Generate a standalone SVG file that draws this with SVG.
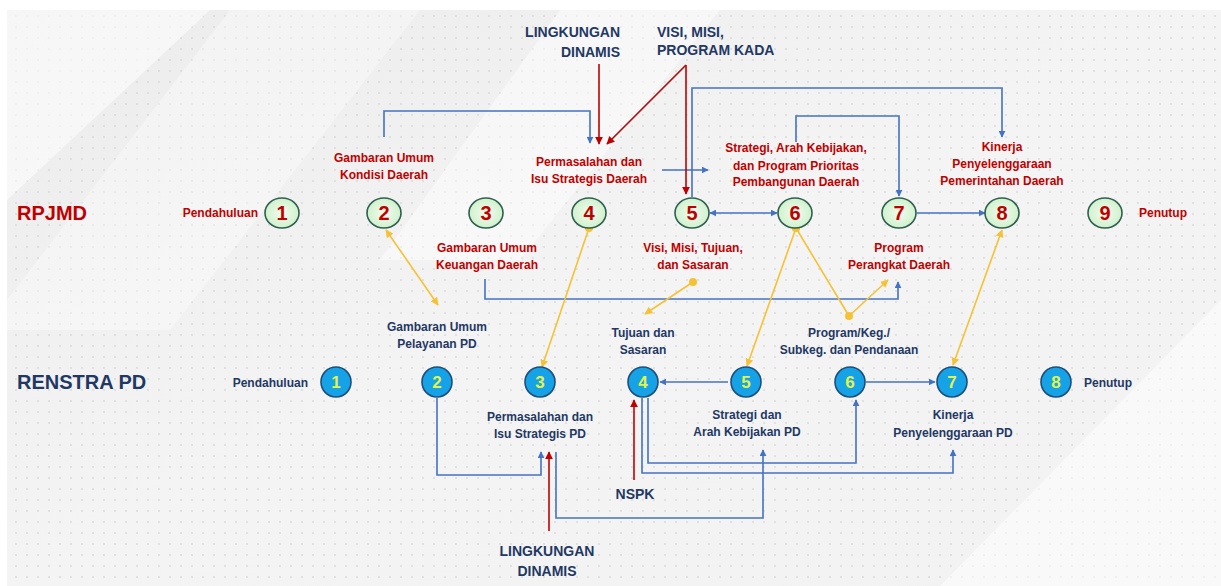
<svg xmlns="http://www.w3.org/2000/svg" width="1221" height="586" viewBox="0 0 1221 586">
<defs>
<style>
.lbl{font-family:"Liberation Sans",Arial,sans-serif;font-weight:bold;font-size:12px;text-anchor:middle}
.red{fill:#c00000}
.navy{fill:#1f3864}
.big{font-size:14px}
.title{font-family:"Liberation Sans",Arial,sans-serif;font-weight:bold;font-size:20px}
.cg{fill:url(#gg);stroke:#2f5f4f;stroke-width:1.6}
.cb{fill:#15a2e6;stroke:#1f4e79;stroke-width:1.6}
.ng{font-family:"Liberation Sans",Arial,sans-serif;font-weight:bold;font-size:20px;fill:#c00000;text-anchor:middle}
.nb{font-family:"Liberation Sans",Arial,sans-serif;font-weight:bold;font-size:17px;fill:#e4f24a;text-anchor:middle}
.bl{fill:none;stroke:#4472c4;stroke-width:1.6}
.rd{fill:none;stroke:#c00000;stroke-width:1.6}
.yl{fill:none;stroke:#f5c235;stroke-width:1.6}
</style>
<radialGradient id="gg" cx="0.5" cy="0.5" r="0.6">
<stop offset="0" stop-color="#f2fcef"/>
<stop offset="1" stop-color="#c9efc6"/>
</radialGradient>
<linearGradient id="bg" x1="0" y1="0" x2="1" y2="1">
<stop offset="0" stop-color="#ececec"/>
<stop offset="0.5" stop-color="#f4f4f4"/>
<stop offset="1" stop-color="#f2f2f2"/>
</linearGradient>
<pattern id="dots" width="11" height="11" patternUnits="userSpaceOnUse">
<circle cx="5" cy="5" r="1.1" fill="#d2d2d2"/>
</pattern>
<marker id="ab" viewBox="0 0 10 10" refX="9" refY="5" markerWidth="7" markerHeight="7" orient="auto-start-reverse" markerUnits="userSpaceOnUse">
<path d="M0,0 L10,5 L0,10 z" fill="#4472c4"/>
</marker>
<marker id="ar" viewBox="0 0 10 10" refX="9" refY="5" markerWidth="8" markerHeight="8" orient="auto-start-reverse" markerUnits="userSpaceOnUse">
<path d="M0,0 L10,5 L0,10 z" fill="#c00000"/>
</marker>
<marker id="ay" viewBox="0 0 10 10" refX="9" refY="5" markerWidth="8" markerHeight="8" orient="auto-start-reverse" markerUnits="userSpaceOnUse">
<path d="M0,0 L10,5 L0,10 z" fill="#f5c235"/>
</marker>
<marker id="dy" viewBox="0 0 10 10" refX="5" refY="5" markerWidth="8" markerHeight="8" markerUnits="userSpaceOnUse">
<circle cx="5" cy="5" r="5" fill="#f5c235"/>
</marker>
</defs>

<rect x="0" y="0" width="1221" height="586" fill="#ffffff"/>
<rect x="7" y="10" width="1214" height="576" fill="url(#bg)"/>
<rect x="7" y="10" width="1214" height="576" fill="url(#dots)" opacity="0.7"/>
<polygon points="7,10 210,10 7,200" fill="#ffffff" opacity="0.55"/>
<polygon points="230,10 420,10 170,330 7,330 7,300" fill="#ffffff" opacity="0.35"/>
<polygon points="560,10 720,10 520,260 380,260" fill="#ffffff" opacity="0.45"/>
<polygon points="1221,300 1221,586 940,586" fill="#ffffff" opacity="0.5"/>

<g id="titles">
<text class="title red" x="17" y="220">RPJMD</text>
<text class="title navy" x="17" y="389">RENSTRA PD</text>
</g>

<g id="connectors">
<!-- RPJMD blue -->
<polyline class="bl" points="384,137 384,111 590,111 590,143" marker-end="url(#ab)"/>
<line class="bl" x1="662" y1="170" x2="708" y2="170" marker-end="url(#ab)"/>
<polyline class="bl" points="692,197 692,88 1002,88 1002,137" marker-end="url(#ab)"/>
<polyline class="bl" points="796,142 796,116 899,116 899,196" marker-end="url(#ab)"/>
<line class="bl" x1="710" y1="213" x2="777" y2="213" marker-start="url(#ab)" marker-end="url(#ab)"/>
<line class="bl" x1="917" y1="213" x2="985" y2="213" marker-end="url(#ab)"/>
<polyline class="bl" points="485,279 485,299 898,299 898,282" marker-end="url(#ab)"/>
<!-- red inputs top -->
<line class="rd" x1="599" y1="64" x2="599" y2="144" marker-end="url(#ar)"/>
<line class="rd" x1="686" y1="65" x2="607" y2="144" marker-end="url(#ar)"/>
<line class="rd" x1="686" y1="65" x2="686" y2="194" marker-end="url(#ar)"/>
<!-- yellow links -->
<line class="yl" x1="386" y1="230" x2="438" y2="305" marker-start="url(#ay)" marker-end="url(#ay)"/>
<line class="yl" x1="589" y1="228" x2="542" y2="367" marker-start="url(#dy)" marker-end="url(#ay)"/>
<line class="yl" x1="693" y1="282" x2="645" y2="314" marker-start="url(#dy)" marker-end="url(#ay)"/>
<line class="yl" x1="796" y1="228" x2="747" y2="366" marker-start="url(#dy)" marker-end="url(#ay)"/>
<line class="yl" x1="796" y1="228" x2="849" y2="316" marker-start="url(#dy)" marker-end="url(#dy)"/>
<line class="yl" x1="849" y1="316" x2="888" y2="280" marker-end="url(#ay)"/>
<line class="yl" x1="1002" y1="230" x2="953" y2="365" marker-start="url(#ay)" marker-end="url(#ay)"/>
<!-- RENSTRA blue -->
<line class="bl" x1="728" y1="382" x2="660" y2="382" marker-end="url(#ab)"/>
<line class="bl" x1="866" y1="382" x2="935" y2="382" marker-end="url(#ab)"/>
<polyline class="bl" points="437,398 437,475 541,475 541,452" marker-end="url(#ab)"/>
<polyline class="bl" points="556,452 556,518 763,518 763,450" marker-end="url(#ab)"/>
<polyline class="bl" points="648,398 648,463 856,463 856,400" marker-end="url(#ab)"/>
<polyline class="bl" points="642,398 642,473 953,473 953,450" marker-end="url(#ab)"/>
<!-- red inputs bottom -->
<line class="rd" x1="549" y1="531" x2="549" y2="452" marker-end="url(#ar)"/>
<line class="rd" x1="634" y1="480" x2="634" y2="400" marker-end="url(#ar)"/>
</g>

<g id="ext-lingkungan-top">
<text class="lbl navy big" style="text-anchor:end" x="620" y="37">LINGKUNGAN</text>
<text class="lbl navy big" style="text-anchor:end" x="620" y="57">DINAMIS</text>
</g>
<g id="ext-visi">
<text class="lbl navy big" style="text-anchor:start" x="657" y="37">VISI, MISI,</text>
<text class="lbl navy big" style="text-anchor:start" x="657" y="55">PROGRAM KADA</text>
</g>

<g id="r1"><ellipse class="cg" cx="282" cy="213" rx="17" ry="15"/><text class="ng" x="282" y="220">1</text>
<text class="lbl red" style="text-anchor:end" x="258" y="217">Pendahuluan</text></g>
<g id="r2"><ellipse class="cg" cx="384" cy="213" rx="17" ry="15"/><text class="ng" x="384" y="220">2</text>
<text class="lbl red" x="384" y="162">Gambaran Umum</text><text class="lbl red" x="384" y="179">Kondisi Daerah</text></g>
<g id="r3"><ellipse class="cg" cx="486" cy="213" rx="17" ry="15"/><text class="ng" x="486" y="220">3</text>
<text class="lbl red" x="487" y="252">Gambaran Umum</text><text class="lbl red" x="487" y="269">Keuangan Daerah</text></g>
<g id="r4"><ellipse class="cg" cx="589" cy="213" rx="17" ry="15"/><text class="ng" x="589" y="220">4</text>
<text class="lbl red" x="589" y="166">Permasalahan dan</text><text class="lbl red" x="589" y="183">Isu Strategis Daerah</text></g>
<g id="r5"><ellipse class="cg" cx="692" cy="213" rx="17" ry="15"/><text class="ng" x="692" y="220">5</text>
<text class="lbl red" x="693" y="252">Visi, Misi, Tujuan,</text><text class="lbl red" x="693" y="269">dan Sasaran</text></g>
<g id="r6"><ellipse class="cg" cx="795" cy="213" rx="17" ry="15"/><text class="ng" x="795" y="220">6</text>
<text class="lbl red" x="796" y="152">Strategi, Arah Kebijakan,</text><text class="lbl red" x="796" y="170">dan Program Prioritas</text><text class="lbl red" x="796" y="186">Pembangunan Daerah</text></g>
<g id="r7"><ellipse class="cg" cx="899" cy="213" rx="17" ry="15"/><text class="ng" x="899" y="220">7</text>
<text class="lbl red" x="899" y="252">Program</text><text class="lbl red" x="899" y="269">Perangkat Daerah</text></g>
<g id="r8"><ellipse class="cg" cx="1002" cy="213" rx="17" ry="15"/><text class="ng" x="1002" y="220">8</text>
<text class="lbl red" x="1002" y="151">Kinerja</text><text class="lbl red" x="1002" y="168">Penyelenggaraan</text><text class="lbl red" x="1002" y="185">Pemerintahan Daerah</text></g>
<g id="r9"><ellipse class="cg" cx="1105" cy="213" rx="17" ry="15"/><text class="ng" x="1105" y="220">9</text>
<text class="lbl red" style="text-anchor:start" x="1139" y="217">Penutup</text></g>

<g id="p1"><circle class="cb" cx="336" cy="382" r="15"/><text class="nb" x="336" y="388">1</text>
<text class="lbl navy" style="text-anchor:end" x="308" y="387">Pendahuluan</text></g>
<g id="p2"><circle class="cb" cx="437" cy="382" r="15"/><text class="nb" x="437" y="388">2</text>
<text class="lbl navy" x="437" y="331">Gambaran Umum</text><text class="lbl navy" x="437" y="348">Pelayanan PD</text></g>
<g id="p3"><circle class="cb" cx="540" cy="382" r="15"/><text class="nb" x="540" y="388">3</text>
<text class="lbl navy" x="540" y="421">Permasalahan dan</text><text class="lbl navy" x="540" y="438">Isu Strategis PD</text></g>
<g id="p4"><circle class="cb" cx="643" cy="382" r="15"/><text class="nb" x="643" y="388">4</text>
<text class="lbl navy" x="643" y="337">Tujuan dan</text><text class="lbl navy" x="643" y="354">Sasaran</text></g>
<g id="p5"><circle class="cb" cx="746" cy="382" r="15"/><text class="nb" x="746" y="388">5</text>
<text class="lbl navy" x="747" y="419">Strategi dan</text><text class="lbl navy" x="747" y="436">Arah Kebijakan PD</text></g>
<g id="p6"><circle class="cb" cx="850" cy="382" r="15"/><text class="nb" x="850" y="388">6</text>
<text class="lbl navy" x="849" y="337">Program/Keg./</text><text class="lbl navy" x="849" y="354">Subkeg. dan Pendanaan</text></g>
<g id="p7"><circle class="cb" cx="952" cy="382" r="15"/><text class="nb" x="952" y="388">7</text>
<text class="lbl navy" x="953" y="419">Kinerja</text><text class="lbl navy" x="953" y="437">Penyelenggaraan PD</text></g>
<g id="p8"><circle class="cb" cx="1056" cy="382" r="15"/><text class="nb" x="1056" y="388">8</text>
<text class="lbl navy" style="text-anchor:start" x="1084" y="387">Penutup</text></g>

<g id="ext-nspk"><text class="lbl navy big" x="635" y="499">NSPK</text></g>
<g id="ext-lingkungan-bottom">
<text class="lbl navy big" x="547" y="556">LINGKUNGAN</text>
<text class="lbl navy big" x="547" y="576">DINAMIS</text>
</g>
</svg>
